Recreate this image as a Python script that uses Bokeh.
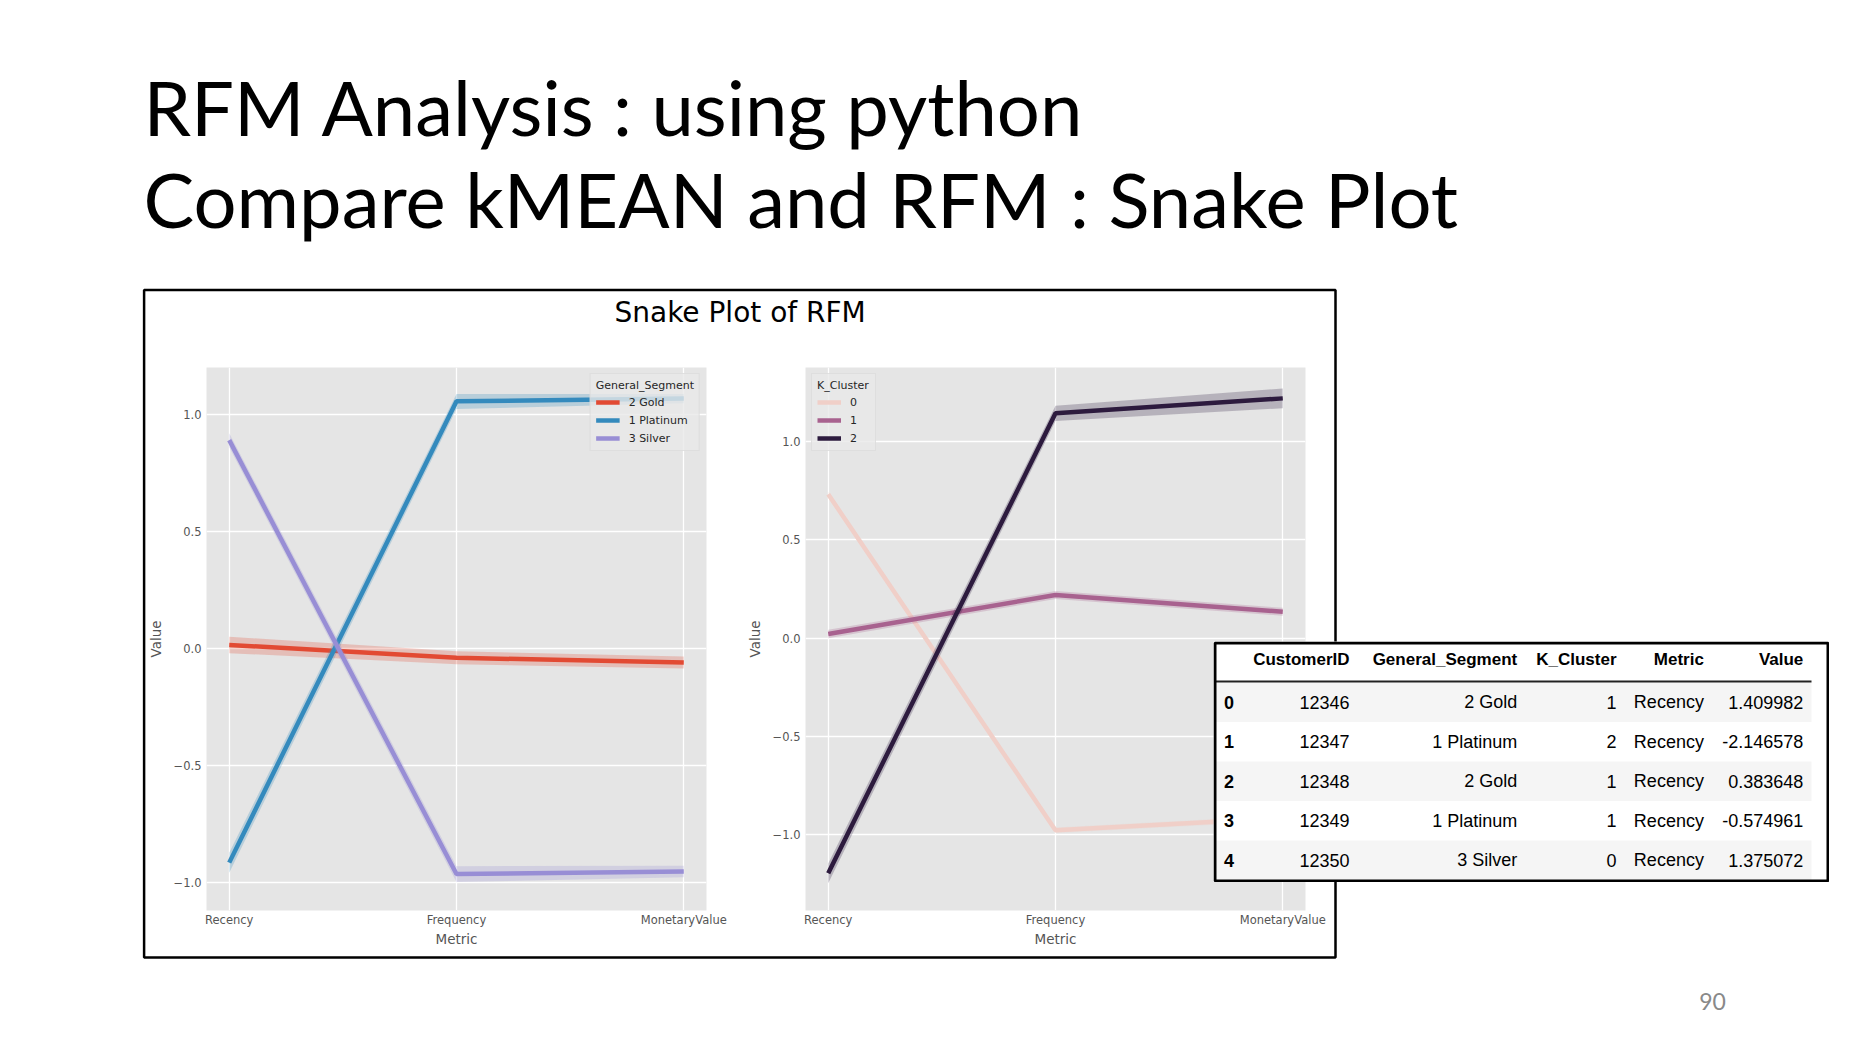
import numpy as np
from bokeh.plotting import figure
from bokeh.models import Range1d, FixedTicker, CustomJSTickFormatter, Legend, LegendItem
from bokeh.core.properties import value
from bokeh.embed import file_html
from bokeh.resources import INLINE

metrics = ["Recency", "Frequency", "MonetaryValue"]

# left panel: mean and confidence band per General_Segment
segments = ["2 Gold", "1 Platinum", "3 Silver"]
gold_mean = [0.015, -0.040, -0.060]
gold_lo = [-0.020, -0.068, -0.086]
gold_hi = [0.050, -0.012, -0.034]
platinum_mean = [-0.917, 1.058, 1.070]
platinum_lo = [-0.960, 1.025, 1.050]
platinum_hi = [-0.875, 1.090, 1.090]
silver_mean = [0.892, -0.966, -0.955]
silver_lo = [0.862, -1.000, -0.980]
silver_hi = [0.922, -0.932, -0.930]

# right panel: mean and confidence band per K_Cluster
clusters = ["0", "1", "2"]
c0_mean = [0.732, -0.976, -0.915]
c0_lo = [0.718, -0.990, -0.930]
c0_hi = [0.746, -0.962, -0.900]
c1_mean = [0.022, 0.220, 0.135]
c1_lo = [0.000, 0.200, 0.115]
c1_hi = [0.044, 0.240, 0.155]
c2_mean = [-1.195, 1.144, 1.220]
c2_lo = [-1.245, 1.105, 1.170]
c2_hi = [-1.145, 1.183, 1.270]

# melted dataframe head shown on the slide
tbl_index = [0, 1, 2, 3, 4]
tbl_customer = [12346, 12347, 12348, 12349, 12350]
tbl_segment = ["2 Gold", "1 Platinum", "2 Gold", "1 Platinum", "3 Silver"]
tbl_cluster = [1, 2, 1, 1, 0]
tbl_metric = ["Recency", "Recency", "Recency", "Recency", "Recency"]
tbl_value = [1.409982, -2.146578, 0.383648, -0.574961, 1.375072]
tbl_columns = ["CustomerID", "General_Segment", "K_Cluster", "Metric", "Value"]

seg_colors = ["#E24A33", "#348ABD", "#988ED5"]
cluster_colors = ["#F0CFC8", "#A8628F", "#2D1B3E"]

MPL = "DejaVu Sans"
PW, PH = 1850, 1032


def place(p, left, top, z):
    # absolute position in window pixels (each figure is its own root)
    p.styles = {"position": "absolute", "left": f"{left}px", "top": f"{top}px", "z-index": str(z)}


def snake(names, means, los, his, colors, ylo, yhi, title, loc):
    p = figure(frame_width=500, frame_height=543,
               x_range=Range1d(-0.1, 2.1), y_range=Range1d(ylo, yhi),
               min_border_left=70, min_border_right=45,
               min_border_top=10, min_border_bottom=45,
               toolbar_location=None, output_backend="svg")
    p.background_fill_color = "#E5E5E5"
    p.border_fill_color = None
    p.outline_line_color = None

    xs = list(range(len(metrics)))
    items = []
    for name, m, lo, hi, c in zip(names, means, los, his, colors):
        p.varea(x=xs, y1=lo, y2=hi, fill_color=c, fill_alpha=0.25)
        r = p.line(xs, m, line_color=c, line_width=4.5)
        items.append(LegendItem(label=name, renderers=[r]))

    xt = FixedTicker(ticks=xs)
    yt = FixedTicker(ticks=[-1.0, -0.5, 0.0, 0.5, 1.0])
    p.xaxis.ticker = xt
    p.xgrid.ticker = xt
    p.yaxis.ticker = yt
    p.ygrid.ticker = yt
    p.xaxis.formatter = CustomJSTickFormatter(args=dict(labels=metrics),
                                              code="return labels[Math.round(tick)] || ''")
    p.yaxis.formatter = CustomJSTickFormatter(
        code="return (tick < 0 ? '\u2212' : '') + Math.abs(tick).toFixed(1)")
    for g in (p.xgrid, p.ygrid):
        g.grid_line_color = "white"
        g.grid_line_width = 1.3

    p.xaxis.axis_label = "Metric"
    p.yaxis.axis_label = "Value"
    for ax in (p.xaxis, p.yaxis):
        ax.axis_line_color = None
        ax.major_tick_line_color = None
        ax.minor_tick_line_color = None
        ax.major_tick_out = 0
        ax.major_tick_in = 0
        ax.minor_tick_out = 0
        ax.major_label_text_font = MPL
        ax.major_label_text_font_size = "11.5px"
        ax.major_label_text_color = "#555555"
        ax.axis_label_text_font = MPL
        ax.axis_label_text_font_size = "13.5px"
        ax.axis_label_text_font_style = "normal"
        ax.axis_label_text_color = "#555555"
    p.xaxis.major_label_standoff = 2
    p.xaxis.axis_label_standoff = 1
    p.yaxis.major_label_standoff = 5
    p.yaxis.axis_label_standoff = 7

    leg = Legend(items=items, location=loc, title=title)
    leg.title_text_font = MPL
    leg.title_text_font_size = "11px"
    leg.title_text_font_style = "normal"
    leg.title_text_color = "#262626"
    leg.label_text_font = MPL
    leg.label_text_font_size = "11px"
    leg.label_text_color = "#262626"
    leg.glyph_width = 24
    leg.glyph_height = 14
    leg.label_height = 14
    leg.label_standoff = 9
    leg.spacing = 4
    leg.padding = 5
    leg.margin = 6
    leg.title_standoff = 3
    leg.background_fill_color = "#E8E8E8"
    leg.background_fill_alpha = 0.8
    leg.border_line_color = "#D4D4D4"
    leg.border_line_width = 1
    p.add_layout(leg)
    return p


# slide background: title, frame, subplot title, page number (window pixel coords)
page = figure(frame_width=PW, frame_height=PH, x_range=Range1d(8, 8 + PW), y_range=Range1d(8 + PH, 8),
              min_border=0, x_axis_type=None, y_axis_type=None,
              toolbar_location=None, output_backend="svg")
page.outline_line_color = None
page.background_fill_color = "white"
page.border_fill_color = "white"
page.text(x=[143, 143], y=[106, 198],
          text=["RFM Analysis : using python", "Compare kMEAN and RFM : Snake Plot"],
          text_font=value("Lato"), text_font_size="76px", text_color="black",
          text_baseline="alphabetic", text_align="left")
page.quad(left=143.6, right=1335, top=289.6, bottom=957,
          fill_color=None, line_color="black", line_width=2.5)
page.text(x=[739.6], y=[312], text=["Snake Plot of RFM"],
          text_font=value(MPL), text_font_size="28px", text_color="black",
          text_baseline="alphabetic", text_align="center")
page.text(x=[1712], y=[1001], text=["90"],
          text_font=value("Lato"), text_font_size="23px", text_color="#898989",
          text_baseline="alphabetic", text_align="center")
place(page, 8, 8, 0)

left_p = snake(segments,
               [gold_mean, platinum_mean, silver_mean],
               [gold_lo, platinum_lo, silver_lo],
               [gold_hi, platinum_hi, silver_hi],
               seg_colors, -1.122, 1.203, "General_Segment", "top_right")
place(left_p, 136, 357, 1)
right_p = snake(clusters,
                [c0_mean, c1_mean, c2_mean],
                [c0_lo, c1_lo, c2_lo],
                [c0_hi, c1_hi, c2_hi],
                cluster_colors, -1.384, 1.377, "K_Cluster", "top_left")
place(right_p, 735, 357, 2)

# dataframe table overlaid on the right panel
tw, th = 616, 241
tbl = figure(frame_width=tw, frame_height=th, x_range=Range1d(0, tw), y_range=Range1d(th, 0),
             min_border=0, x_axis_type=None, y_axis_type=None,
             toolbar_location=None, output_backend="svg")
tbl.outline_line_color = None
tbl.background_fill_color = "white"
tbl.border_fill_color = "white"

rows = np.array(tbl_index)
row_h = 39.5
body_top = 41
even = rows[rows % 2 == 0]
tbl.quad(left=2, right=598, top=body_top + even * row_h, bottom=body_top + (even + 1) * row_h,
         fill_color="#F5F5F5", line_color=None)
tbl.segment(x0=[2], y0=[40], x1=[598], y1=[40], line_color="#222222", line_width=2)
tbl.quad(left=1.5, right=tw - 1.5, top=1.5, bottom=th - 1.5,
         fill_color=None, line_color="black", line_width=3)

col_right = [136, 303.7, 403, 490.4, 589.8]
tbl.text(x=col_right, y=[18.3] * len(tbl_columns), text=tbl_columns,
         text_font=value("Liberation Sans"), text_font_size="17px", text_font_style="bold",
         text_color="black", text_align="right", text_baseline="middle")
ys = list(body_top + row_h / 2 + rows * row_h)
tbl.text(x=[10.5] * len(rows), y=ys, text=[str(i) for i in tbl_index],
         text_font=value("Liberation Sans"), text_font_size="18px", text_font_style="bold",
         text_color="black", text_align="left", text_baseline="middle")
cells = [
    [str(v) for v in tbl_customer],
    tbl_segment,
    [str(v) for v in tbl_cluster],
    tbl_metric,
    [f"{v:.6f}" for v in tbl_value],
]
for xr, vals in zip(col_right, cells):
    tbl.text(x=[xr] * len(vals), y=ys, text=vals,
             text_font=value("Liberation Sans"), text_font_size="18px",
             text_color="black", text_align="right", text_baseline="middle")
place(tbl, 1213, 641, 3)

open("out.html", "w").write(file_html([page, left_p, right_p, tbl], INLINE))
